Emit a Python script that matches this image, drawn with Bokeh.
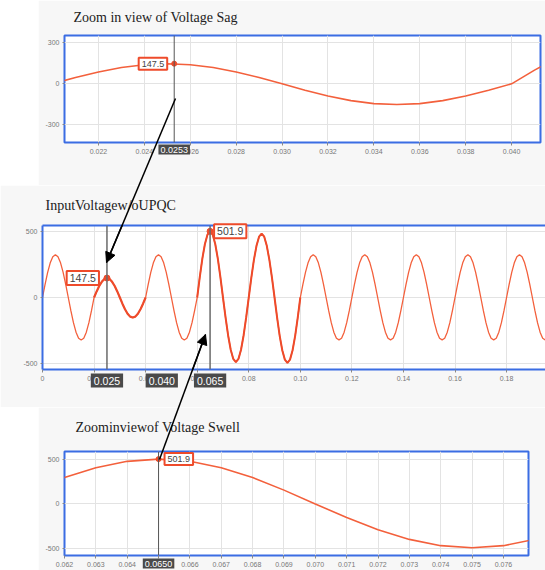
from bokeh.plotting import figure
from bokeh.models import (ColumnDataSource, Range1d, FixedTicker, Span, Arrow, NormalHead,
                          LinearAxis, Spacer)
from bokeh.core.properties import value
from bokeh.layouts import column, row
from bokeh.embed import file_html
from bokeh.resources import INLINE

# ---------------- data ----------------
time_ms = list(range(0, 201))          # sample times, 1 ms apart
v_pre = [0, 100, 191, 263, 309, 325, 309, 263, 191, 100,
         0, -100, -191, -263, -309, -322, -309, -263, -191, -100]
v_sag = [0, 46, 87, 119, 140, 147.5, 140, 119, 87, 46,
         0, -47, -89, -123, -145, -152, -145, -123, -89, -47]
v_mid = [0, 100, 191, 263, 309, 325, 309, 263, 191, 100,
         0, -100, -191, -263, -309, -322, -309, -263, -191, -100]
v_swell = [0, 155, 295, 406, 477, 501.9, 477, 406, 295, 155,
           0, -151, -288, -396, -466, -490, -466, -396, -288, -151,
           0, 150, 285, 392, 461, 485, 461, 392, 285, 150,
           0, -153, -291, -400, -471, -495, -471, -400, -291, -153]
v_post = [0, 100, 191, 263, 309, 325, 309, 263, 191, 100,
          0, -100, -191, -263, -309, -321, -309, -263, -191, -100,
          0, 100, 191, 263, 309, 325, 309, 263, 191, 100,
          0, -100, -191, -263, -309, -321, -309, -263, -191, -100,
          0, 100, 191, 263, 309, 325, 309, 263, 191, 100,
          0, -100, -191, -263, -309, -321, -309, -263, -191, -100,
          0, 100, 191, 263, 309, 325, 309, 263, 191, 100,
          0, -100, -191, -263, -309, -321, -309, -263, -191, -100,
          0, 100, 191, 263, 309, 325, 309, 263, 191, 100,
          0, -100, -191, -263, -309, -321, -309, -263, -191, -100,
          0]
voltage = v_pre + v_sag + v_mid + v_swell + v_post

x1_ticks = [0.022, 0.024, 0.026, 0.028, 0.030, 0.032, 0.034, 0.036, 0.038, 0.040]
x1_labels = ["0.022", "0.024", "0.026", "0.028", "0.030", "0.032", "0.034", "0.036", "0.038", "0.040"]
y1_ticks = [-300, 0, 300]
y1_labels = ["-300", "0", "300"]
x2_ticks = [0, 0.02, 0.04, 0.06, 0.08, 0.10, 0.12, 0.14, 0.16, 0.18]
x2_labels = ["0", "0.02", "0.04", "0.06", "0.08", "0.10", "0.12", "0.14", "0.16", "0.18"]
y2_ticks = [-500, 0, 500]
y2_labels = ["-500", "0", "500"]
x3_ticks = [0.062, 0.063, 0.064, 0.065, 0.066, 0.067, 0.068, 0.069, 0.070,
            0.071, 0.072, 0.073, 0.074, 0.075, 0.076]
x3_labels = ["0.062", "0.063", "0.064", "0.065", "0.066", "0.067", "0.068", "0.069", "0.070",
             "0.071", "0.072", "0.073", "0.074", "0.075", "0.076"]
y3_ticks = [-500, 0, 500]
y3_labels = ["-500", "0", "500"]

sag_cursor_t = [0.0253]
sag_cursor_v = [147.5]
sag_cursor_text = ["0.0253"]
sag_value_text = ["147.5"]
main_lines_t = [0.025, 0.065]
main_marks_v = [147.5, 501.9]
main_value_text = ["147.5", "501.9"]
main_cursor_t = [0.025, 0.040, 0.065]
main_cursor_text = ["0.025", "0.040", "0.065"]
swell_cursor_t = [0.0650]
swell_cursor_v = [501.9]
swell_cursor_text = ["0.0650"]
swell_value_text = ["501.9"]

titles = ["Zoom in view of Voltage Sag", "InputVoltagew/oUPQC", "Zoominviewof Voltage Swell"]

# ---------------- style / layout ----------------
BLUE = "#3b6de3"
RED = "#ee4b2b"
LINE = "#f3603c"
GRID = "#e3e3e3"
BG = "#f7f7f7"
DARK = "#4a4a4a"
SANS = "Liberation Sans"
SERIF = "Liberation Serif"

# frame geometry on the page (left, top, width, height) + ranges
G1 = ((64, 35, 476, 107), (0.02052, 0.04126), (-430, 354))
G2 = ((42, 225, 503, 144), (0.0, 0.1951), (-546, 546))
G3 = ((64, 451, 464, 104), (0.0620, 0.0768), (-576, 587))


def to_data(g, px, py):
    (fx, fy, fw, fh), (x0, x1), (y0, y1) = g
    return x0 + (px - fx) / fw * (x1 - x0), y1 - (py - fy) / fh * (y1 - y0)


def make_fig(g, width, height, bl, br, bt, bb, xt, xl, yt, yl):
    _, xr, yr = g
    p = figure(width=width, height=height, x_range=Range1d(*xr), y_range=Range1d(*yr),
               output_backend="svg", toolbar_location=None,
               min_border_left=bl, min_border_right=br, min_border_top=bt, min_border_bottom=bb,
               background_fill_color="white", border_fill_color=BG,
               outline_line_color=BLUE, outline_line_width=2)
    p.xaxis.ticker = FixedTicker(ticks=xt)
    p.yaxis.ticker = FixedTicker(ticks=yt)
    p.xgrid.ticker = FixedTicker(ticks=xt)
    p.ygrid.ticker = FixedTicker(ticks=yt)
    p.xaxis.major_label_overrides = dict(zip(xt, xl))
    p.yaxis.major_label_overrides = dict(zip(yt, yl))
    for ax in (p.xaxis[0], p.yaxis[0]):
        ax.axis_line_color = None
        ax.major_tick_in = 0
        ax.major_tick_line_color = "#888888"
        ax.minor_tick_line_color = None
        ax.major_label_text_font = SANS
        ax.major_label_text_font_size = "7px"
        ax.major_label_text_color = "#777777"
    p.xaxis[0].major_tick_out = 3
    p.xaxis[0].major_label_standoff = 3
    p.yaxis[0].major_tick_out = 2
    p.yaxis[0].major_label_standoff = 3
    p.grid.grid_line_color = GRID
    return p


def title(p, g, px, py, text):
    x, y = to_data(g, px, py)
    p.text(x=[x], y=[y], text=[text], text_font=value(SERIF), text_font_size="14px",
           text_color="#222222", text_align="left", text_baseline="middle", level="overlay")


def arrow_line(p, g, a):
    (sx, sy), (ex, ey) = a
    x0, y0 = to_data(g, sx, sy)
    x1, y1 = to_data(g, ex, ey)
    p.segment(x0=[x0], y0=[y0], x1=[x1], y1=[y1], line_color="black", line_width=1.5,
              level="overlay")


def arrow_head(p, g, a):
    (sx, sy), (ex, ey) = a
    x0, y0 = to_data(g, sx, sy)
    x1, y1 = to_data(g, ex, ey)
    p.add_layout(Arrow(x_start=x0, y_start=y0, x_end=x1, y_end=y1, line_width=1.5,
                       line_color="black",
                       end=NormalHead(size=10, fill_color="black", line_color="black")))


def value_box(p, xs, ys, texts, size, dx):
    p.text(x=xs, y=ys, text=texts, x_offset=dx,
           text_align="right" if dx < 0 else "left",
           text_baseline="middle", text_font=value(SANS), text_font_size=size,
           text_color="#444444", padding=3, background_fill_color="white",
           border_line_color=RED, border_line_width=2, level="overlay")


def dark_box(p, xs, y, texts, size, align="center", dy=3, pad=2):
    p.text(x=xs, y=[y] * len(xs), text=texts, text_align=align, text_baseline="top",
           y_offset=dy, text_font=value(SANS), text_font_size=size,
           text_color="white", padding=pad, background_fill_color=DARK, level="overlay")


ARROW1 = ((175, 98), (106, 262))
ARROW2 = ((159, 459), (205, 334))

t = [ms / 1000 for ms in time_ms]
src = ColumnDataSource(dict(t=t, v=voltage))
src_sag = ColumnDataSource(dict(t=t[20:41], v=voltage[20:41]))
src_swell = ColumnDataSource(dict(t=t[60:101], v=voltage[60:101]))

# ---------- panel 1 ----------
p1 = make_fig(G1, 507, 185, 26, 5, 35, 43, x1_ticks, x1_labels, y1_ticks, y1_labels)
p1.line("t", "v", source=src, color=LINE, line_width=1.6)
p1.add_layout(Span(location=sag_cursor_t[0], dimension="height", line_color="#555555", line_width=1))
p1.scatter(sag_cursor_t, sag_cursor_v, size=5, color=RED)
value_box(p1, sag_cursor_t, sag_cursor_v, sag_value_text, "9px", -7)
dark_box(p1, sag_cursor_t, G1[2][0], sag_cursor_text, "9px", dy=2)
title(p1, G1, 73, 17, titles[0])
arrow_line(p1, G1, ARROW1)

# ---------- panel 2 ----------
p2 = make_fig(G2, 545, 222, 42, 0, 40, 38, x2_ticks, x2_labels, y2_ticks, y2_labels)
p2.outline_line_color = None
p2.xaxis[0].axis_line_color = BLUE
p2.xaxis[0].axis_line_width = 2
p2.yaxis[0].axis_line_color = BLUE
p2.yaxis[0].axis_line_width = 2
top_axis = LinearAxis(ticker=FixedTicker(ticks=[]), axis_line_color=BLUE, axis_line_width=2,
                      major_tick_line_color=None, minor_tick_line_color=None,
                      major_label_standoff=0, major_tick_out=0, major_tick_in=0)
p2.add_layout(top_axis, "above")
p2.line("t", "v", source=src, color=LINE, line_width=1.3)
p2.line("t", "v", source=src_sag, color=RED, line_width=2.2)
p2.line("t", "v", source=src_swell, color=RED, line_width=2.0)
for tc in main_lines_t:
    p2.add_layout(Span(location=tc, dimension="height", line_color="#6a6a6a", line_width=1.5))
p2.scatter(main_lines_t, main_marks_v, size=6, color=RED)
value_box(p2, main_lines_t[:1], main_marks_v[:1], main_value_text[:1], "10.5px", -8)
value_box(p2, main_lines_t[1:], main_marks_v[1:], main_value_text[1:], "10.5px", 4)
dark_box(p2, [main_cursor_t[0], main_cursor_t[2]], G2[2][0],
         [main_cursor_text[0], main_cursor_text[2]], "10.5px", dy=4, pad=3)
dark_box(p2, [main_cursor_t[1]], G2[2][0], [main_cursor_text[1]], "10.5px", "left", dy=4, pad=3)
title(p2, G2, 45, 205, titles[1])
arrow_line(p2, G2, ARROW1)
arrow_line(p2, G2, ARROW2)
arrow_head(p2, G2, ARROW1)
arrow_head(p2, G2, ARROW2)

# ---------- panel 3 ----------
p3 = make_fig(G3, 507, 163, 26, 17, 44, 15, x3_ticks, x3_labels, y3_ticks, y3_labels)
p3.line("t", "v", source=src, color=LINE, line_width=1.6)
p3.add_layout(Span(location=swell_cursor_t[0], dimension="height", line_color="#555555", line_width=1))
p3.scatter(swell_cursor_t, swell_cursor_v, size=5, color=RED)
value_box(p3, swell_cursor_t, swell_cursor_v, swell_value_text, "9px", 6)
dark_box(p3, swell_cursor_t, G3[2][0], swell_cursor_text, "9px")
title(p3, G3, 75, 427, titles[2])
arrow_line(p3, G3, ARROW2)

layout = column(row(Spacer(width=38, height=185), p1), p2, row(Spacer(width=38, height=163), p3))
open("out.html", "w").write(file_html(layout, INLINE))
